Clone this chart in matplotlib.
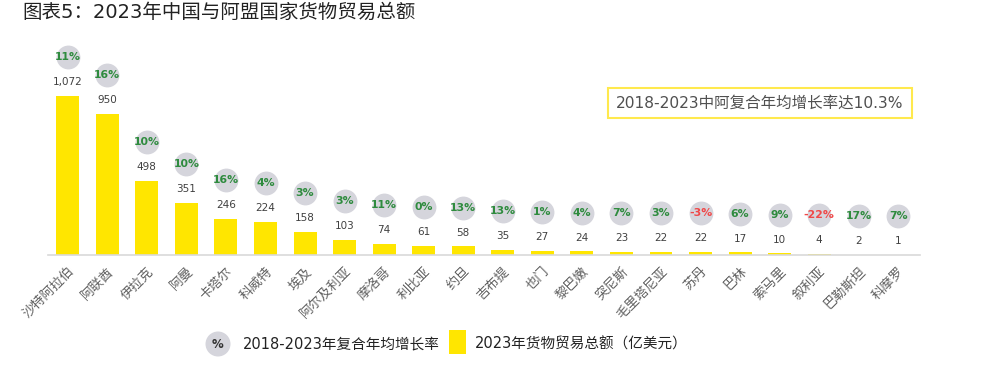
import matplotlib
matplotlib.use("Agg")
import matplotlib.pyplot as plt
from matplotlib.patches import Circle, Rectangle
from matplotlib.transforms import offset_copy

plt.rcParams['font.family'] = ['DejaVu Sans', 'Noto Sans CJK SC']

# data
countries = ["沙特阿拉伯", "阿联酋", "伊拉克", "阿曼", "卡塔尔", "科威特", "埃及",
             "阿尔及利亚", "摩洛哥", "利比亚", "约旦", "吉布提", "也门", "黎巴嫩",
             "突尼斯", "毛里塔尼亚", "苏丹", "巴林", "索马里", "叙利亚", "巴勒斯坦", "科摩罗"]
trade_2023 = [1072, 950, 498, 351, 246, 224, 158, 103, 74, 61, 58, 35,
              27, 24, 23, 22, 22, 17, 10, 4, 2, 1]
cagr = [11, 16, 10, 10, 16, 4, 3, 3, 11, 0, 13, 13, 1, 4, 7, 3, -3, 6, 9, -22, 17, 7]

yellow = "#FFE600"
circ_gray = "#D5D5DC"
green = "#2E8B3E"
red = "#F04848"
txt_gray = "#404040"

fig = plt.figure(figsize=(10, 3.69), dpi=100)
ax = fig.add_axes([0.048, 0.309, 0.872, 0.583])

x = list(range(len(countries)))
ax.bar(x, trade_2023, width=0.58, color=yellow, zorder=2)
ax.set_xlim(-0.5, 21.55)
ax.set_ylim(0, 1453)

for s in ["top", "right", "left"]:
    ax.spines[s].set_visible(False)
ax.spines["bottom"].set_color("#D9D9D9")
ax.spines["bottom"].set_linewidth(1.2)
ax.set_yticks([])
ax.set_xticks(x)
ax.set_xticklabels(countries, rotation=45, ha="right", rotation_mode="anchor",
                   fontsize=9.5, color="#606060", family=['Noto Sans CJK SC'])
ax.tick_params(axis="x", length=0, pad=7)

# value labels
for i, v in enumerate(trade_2023):
    ax.annotate(f"{v:,}", (i, v), xytext=(0, 10), textcoords="offset points",
                ha="center", va="center", fontsize=7.5, color=txt_gray)

# growth circles
circ_tr = offset_copy(ax.transData, fig=fig, y=28, units="points")
ax.scatter(x, trade_2023, s=295, color=circ_gray, transform=circ_tr,
           zorder=3, clip_on=False, linewidths=0)
for i, v in enumerate(trade_2023):
    c = red if cagr[i] < 0 else green
    ax.annotate(f"{cagr[i]}%", (i, v), xytext=(0, 28), textcoords="offset points",
                ha="center", va="center", fontsize=7.8, fontweight="bold",
                color=c, zorder=4)

# overlay in pixel coordinates for title, box and legend
ov = fig.add_axes([0, 0, 1, 1], facecolor="none")
ov.set_xlim(0, 1000)
ov.set_ylim(369, 0)
ov.axis("off")

ov.text(22, 12, "图表5：2023年中国与阿盟国家货物贸易总额", fontsize=14,
        color="#222222", va="center", ha="left")

ov.add_patch(Rectangle((608, 88), 304, 30, fill=False, ec="#FFE94D", lw=1.5))
ov.text(760, 103, "2018-2023中阿复合年均增长率达10.3%", fontsize=11.2,
        color="#505050", ha="center", va="center")

ov.add_patch(Circle((218, 344), 12.5, color=circ_gray, lw=0))
ov.text(218, 344, "%", fontsize=8.5, fontweight="bold", color="#333333",
        ha="center", va="center")
ov.text(243, 344, "2018-2023年复合年均增长率", fontsize=10.5, color="#222222",
        ha="left", va="center")
ov.add_patch(Rectangle((449, 330), 17, 24, color=yellow, lw=0))
ov.text(475, 344, "2023年货物贸易总额（亿美元）", fontsize=10.5, color="#222222",
        ha="left", va="center")

fig.savefig("out.png", dpi=100)
